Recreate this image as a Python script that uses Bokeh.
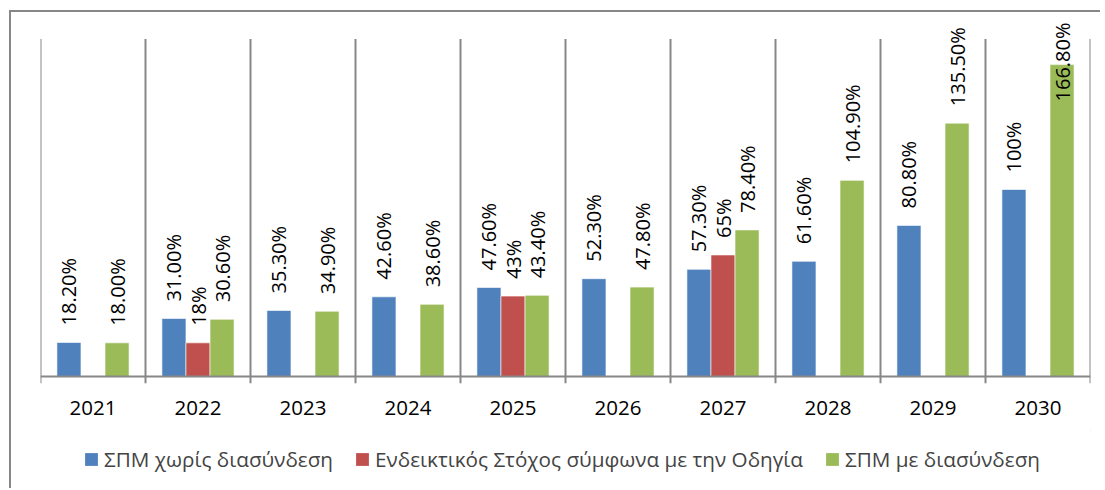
import math
from bokeh.plotting import figure
from bokeh.layouts import column
from bokeh.models import (ColumnDataSource, FactorRange, Range1d, Span, Legend,
                          LegendItem)
from bokeh.transform import dodge
from bokeh.core.properties import value
from bokeh.embed import file_html
from bokeh.resources import INLINE

years = ["2021", "2022", "2023", "2024", "2025", "2026", "2027", "2028", "2029", "2030"]
no_link = [18.2, 31.0, 35.3, 42.6, 47.6, 52.3, 57.3, 61.6, 80.8, 100.0]
no_link_lbl = ["18.20%", "31.00%", "35.30%", "42.60%", "47.60%", "52.30%", "57.30%", "61.60%", "80.80%", "100%"]
target_years = ["2022", "2025", "2027"]
target = [18.0, 43.0, 65.0]
target_lbl = ["18%", "43%", "65%"]
with_link = [18.0, 30.6, 34.9, 38.6, 43.4, 47.8, 78.4, 104.9, 135.5, 166.8]
with_link_lbl = ["18.00%", "30.60%", "34.90%", "38.60%", "43.40%", "47.80%", "78.40%", "104.90%", "135.50%", "166.80%"]

names = ["ΣΠΜ χωρίς διασύνδεση", "Ενδεικτικός Στόχος σύμφωνα με την Οδηγία", "ΣΠΜ με διασύνδεση"]
colors = ["#4F81BD", "#C0504D", "#9BBB59"]

FONT = "Open Sans"
GRID = "#878787"
Y_MAX = 180.5      # top of the plot area (hidden value axis)
LABEL_CAP = 138.0  # labels cannot go above the chart area

src_a = ColumnDataSource(dict(x=years, top=no_link, lbl=no_link_lbl,
                              ly=[min(v, LABEL_CAP) for v in no_link]))
src_b = ColumnDataSource(dict(x=target_years, top=target, lbl=target_lbl,
                              ly=[min(v, LABEL_CAP) for v in target]))
src_c = ColumnDataSource(dict(x=years, top=with_link, lbl=with_link_lbl,
                              ly=[min(v, LABEL_CAP) for v in with_link]))

p = figure(x_range=FactorRange(*years), y_range=Range1d(-3.75, 192),
           width=1089, height=418, output_backend="svg", toolbar_location=None,
           min_border_left=29, min_border_right=10, min_border_top=5, min_border_bottom=47)
p.outline_line_color = None
p.background_fill_color = "white"
p.border_fill_color = "white"
p.xgrid.grid_line_color = None
p.ygrid.grid_line_color = None
p.yaxis.visible = False

W = 0.229
r_a = p.vbar(x=dodge("x", -W, range=p.x_range), top="top", bottom=0, width=W,
             source=src_a, fill_color=colors[0], line_color="white", line_width=0.6)
r_b = p.vbar(x=dodge("x", 0.0, range=p.x_range), top="top", bottom=0, width=W,
             source=src_b, fill_color=colors[1], line_color="white", line_width=0.6)
r_c = p.vbar(x=dodge("x", W, range=p.x_range), top="top", bottom=0, width=W,
             source=src_c, fill_color=colors[2], line_color="white", line_width=0.6)

for src, off in ((src_a, -W), (src_b, 0.0), (src_c, W)):
    p.text(x=dodge("x", off, range=p.x_range), y="ly", text="lbl", source=src,
           angle=math.pi / 2, text_align="left", text_baseline="middle",
           y_offset=-17, text_font=value(FONT), text_font_size="20px",
           text_color="black")

# category separators (with tick stubs below the baseline) and baseline
seps = list(range(len(years) + 1))
p.segment(x0=seps, y0=[-3.75] * len(seps), x1=seps, y1=[Y_MAX] * len(seps),
          line_color=GRID, line_width=2)
p.add_layout(Span(location=0, dimension="width", line_color=GRID, line_width=2))

# x axis labels
p.xaxis.axis_line_color = None
p.xaxis.major_tick_line_color = None
p.xaxis.minor_tick_line_color = None
p.xaxis.major_label_standoff = 11
p.xaxis.major_label_text_font = FONT
p.xaxis.major_label_text_font_size = "20.5px"
p.xaxis.major_label_text_color = "black"

# legend strip
q = figure(x_range=Range1d(0, 1), y_range=Range1d(0, 1), width=1089, height=58,
           output_backend="svg", toolbar_location=None,
           x_axis_location=None, y_axis_location=None,
           min_border_left=0, min_border_right=0, min_border_top=0, min_border_bottom=0)
q.outline_line_color = None
q.xgrid.grid_line_color = None
q.ygrid.grid_line_color = None
q.border_fill_color = "white"
# legend proxies: one bar each, placed outside the visible range
lr = [q.vbar(x=[5.0], top=[5.0], bottom=[4.0], width=0.1, fill_color=c, line_color=None)
      for c in colors]
legend = Legend(items=[LegendItem(label=n, renderers=[r]) for n, r in zip(names, lr)],
                orientation="horizontal", location=(43, 15),
                label_text_font=FONT, label_text_font_size="20.7px",
                label_height=20, glyph_width=16, glyph_height=16,
                spacing=21, label_standoff=5,
                border_line_color=None, background_fill_alpha=0,
                margin=0, padding=0)
q.add_layout(legend)

layout = column(p, q, spacing=0,
                styles={"border-left": f"2px solid {GRID}", "border-top": f"2px solid {GRID}",
                        "margin-left": "9px", "margin-top": "10px"})

open("out.html", "w").write(file_html(layout, INLINE))
